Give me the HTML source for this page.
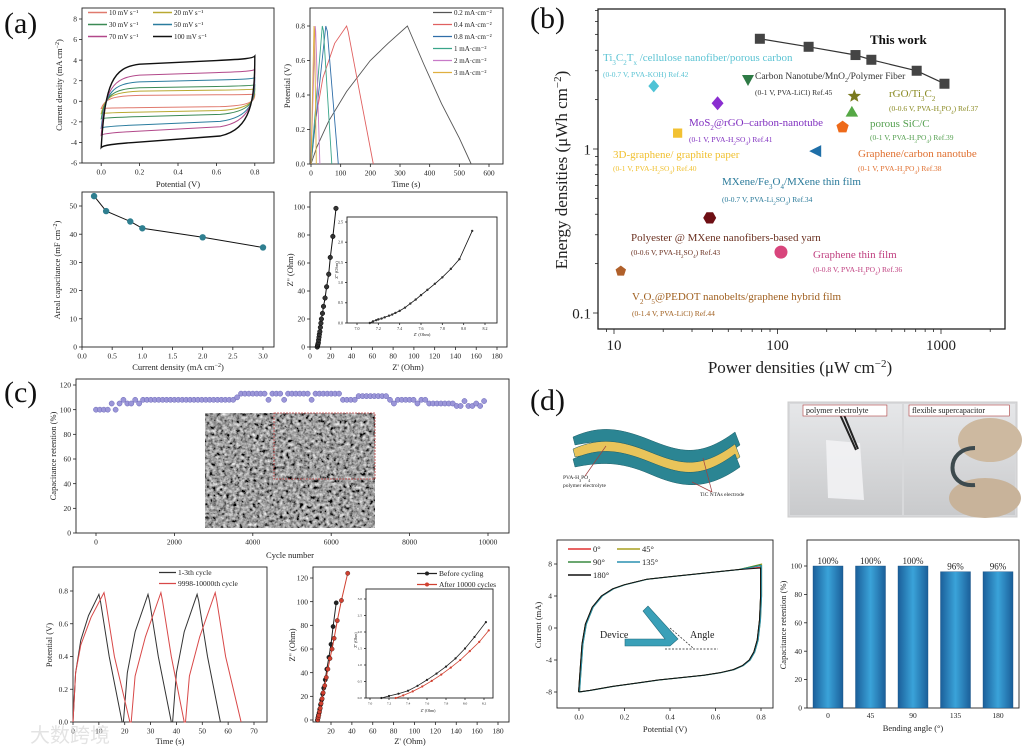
<!DOCTYPE html>
<html><head><meta charset="utf-8"><style>
html,body{margin:0;padding:0;background:#fff;}
svg{display:block;font-family:"Liberation Serif","Noto Serif CJK SC",serif;}
</style></head><body>
<svg id="fig" width="1025" height="748" viewBox="0 0 1025 748" xmlns="http://www.w3.org/2000/svg">
<defs>
<filter id="sem" x="0" y="0" width="100%" height="100%"><feTurbulence type="fractalNoise" baseFrequency="0.3" numOctaves="3" seed="4"/><feColorMatrix type="matrix" values="0.33 0.33 0.33 0 0 0.33 0.33 0.33 0 0 0.33 0.33 0.33 0 0 0 0 0 0 1"/><feComponentTransfer><feFuncR type="linear" slope="2.2" intercept="-0.75"/><feFuncG type="linear" slope="2.2" intercept="-0.75"/><feFuncB type="linear" slope="2.2" intercept="-0.75"/></feComponentTransfer></filter>
<linearGradient id="barg" x1="0" x2="1" y1="0" y2="0"><stop offset="0" stop-color="#1b5f9a"/><stop offset="0.5" stop-color="#3aa3d9"/><stop offset="1" stop-color="#1b5f9a"/></linearGradient>
<linearGradient id="photo" x1="0" x2="0" y1="0" y2="1"><stop offset="0" stop-color="#e6e7e9"/><stop offset="1" stop-color="#c9cacc"/></linearGradient>
</defs>
</svg>
<script>
// ---------- DATA ----------
const cvRates=['10 mV s⁻¹','20 mV s⁻¹','30 mV s⁻¹','50 mV s⁻¹','70 mV s⁻¹','100 mV s⁻¹'];
const cvHigh=[0.7,1.2,1.6,2.3,3.1,4.4];
const cvLow=[-0.7,-1.2,-1.7,-2.6,-3.3,-4.5];
const gcdLabels=['0.2 mA·cm⁻²','0.4 mA·cm⁻²','0.8 mA·cm⁻²','1 mA·cm⁻²','2 mA·cm⁻²','3 mA·cm⁻²'];
const gcdT=[[0,20,60,120,200,260,325,330,380,440,500,540],[0,15,40,80,120,125,160,210],[0,50,55,92],[0,38,42,70],[0,14,16,30],[0,10,12,18]];
const gcdV=[[0,0.1,0.25,0.42,0.6,0.7,0.8,0.78,0.58,0.35,0.15,0],[0,0.25,0.5,0.7,0.8,0.77,0.45,0],[0,0.8,0.77,0],[0,0.8,0.77,0],[0,0.8,0.77,0],[0,0.8,0.77,0]];
const rateX=[0.2,0.4,0.8,1,2,3];
const capY=[53.5,48.2,44.5,42.1,38.9,35.3];
const eisX=[7,7.3,7.6,8,8.3,8.7,9,9.5,10,10.5,11,12,13,14.5,16,18,19.5,22,25];
const eisY=[0,1,2,3,5,7,9,11,14,17,20,24,29,35,43,52,64,79,99];
const eisInX=[7.12,7.15,7.18,7.2,7.23,7.26,7.3,7.33,7.36,7.4,7.45,7.5,7.55,7.6,7.66,7.73,7.8,7.88,7.96,8.08];
const eisInY=[0,0.04,0.07,0.09,0.11,0.14,0.18,0.21,0.25,0.3,0.38,0.48,0.58,0.69,0.82,0.97,1.13,1.34,1.58,2.28];
const workP=[78,155,300,375,710,1050];
const workE=[4.7,4.2,3.74,3.5,3.0,2.5];
const refNames=['Ti3C2Tx','CNT/MnO2','rGO/Ti3C2','SiC/C','MoS2','Graphene/CNT','3D-graphene','MXene/Fe3O4','Polyester','Graphene film','V2O5'];
const refP=[17.5,66,295,285,43,250,24.5,170,38.5,105,11];
const refE=[2.42,2.6,2.1,1.68,1.9,1.36,1.25,0.97,0.38,0.235,0.18];
const cycX=[];for(let i=0;i<100;i++)cycX.push(i*100);
const cycY=[100,100,100,100,105,100,105,108,105,105,108,105,108,108,108,108,108,108,108,108,108,108,108,108,108,108,108,108,108,108,108,108,108,108,108,108,110,113,113,113,113,113,113,113,108,113,113,113,108,113,113,113,113,113,113,108,113,113,113,113,113,113,113,108,108,108,108,111,111,111,111,111,111,111,111,108,105,108,108,108,108,108,105,108,108,105,105,105,105,105,105,105,103,103,107,103,103,105,103,107];
const c2BlackT=[0,1,3,6,10,10.6,14,19,19.5,21,24,29,29.6,33,38,38.5,40,43,48,48.6,52,57];
const c2BlackV=[0,0.3,0.5,0.65,0.78,0.74,0.4,0,0,0.3,0.55,0.78,0.74,0.4,0,0,0.3,0.55,0.78,0.74,0.4,0];
const c2RedT=[0,1,3,7,12,12.6,16,22,22.5,24,28,34,34.6,38,43,43.5,45,49,55,55.6,59,65];
const c2RedV=[0,0.3,0.47,0.64,0.79,0.74,0.4,0,0,0.28,0.52,0.79,0.74,0.4,0,0,0.28,0.52,0.79,0.74,0.4,0];
const c3BX=[7,7.5,8,8.6,9.2,10,11,12,13,14.5,16,18,20,22,25];
const c3BY=[0,2,4,6,9,13,17,22,27,34,43,53,64,79,99];
const c3RX=[7.3,7.8,8.3,9,9.7,10.5,11.5,12.5,14,15.5,17,19,21,23,26,30,36];
const c3RY=[0,2,4,7,10,14,18,23,29,36,43,52,60,69,84,101,124];
const c3InBX=[7.12,7.2,7.3,7.4,7.5,7.6,7.7,7.8,7.9,8.0,8.1,8.22];
const c3InBY=[0,0.06,0.13,0.22,0.37,0.55,0.74,0.95,1.2,1.5,1.85,2.3];
const c3InRX=[7.27,7.35,7.45,7.55,7.65,7.75,7.85,7.95,8.05,8.15,8.25];
const c3InRY=[0,0.08,0.2,0.35,0.52,0.71,0.92,1.15,1.42,1.7,2.05];
const bendLabels=['0°','45°','90°','135°','180°'];
const bendColors=['#e03030','#a8a020','#3a8a40','#2a90b0','#111'];
const bendEnd=[7.6,8.0,7.9,7.8,7.5];
const barCats=['0','45','90','135','180'];
const barVals=[100,100,100,96,96];
const barText=['100%','100%','100%','96%','96%'];

// ---------- HELPERS ----------
const NS='http://www.w3.org/2000/svg';
const svg=document.getElementById('fig');
function el(tag,attrs,parent){const e=document.createElementNS(NS,tag);for(const k in attrs)e.setAttribute(k,attrs[k]);(parent||svg).appendChild(e);return e;}
function txt(s,x,y,size,parent,extra){const t=el('text',Object.assign({x:x,y:y,'font-size':size,fill:'#222'},extra||{}),parent);t.innerHTML=s;return t;}
function lin(d0,d1,r0,r1){return v=>r0+(v-d0)*(r1-r0)/(d1-d0);}
function logs(d0,d1,r0,r1){return v=>r0+(Math.log10(v)-Math.log10(d0))*(r1-r0)/(Math.log10(d1)-Math.log10(d0));}
function pathOf(xs,ys,sx,sy){return xs.map((v,i)=>(i?'L':'M')+sx(v).toFixed(1)+','+sy(ys[i]).toFixed(1)).join('');}
function axes(name,box,sx,sy,xt,yt,o){
  const g=el('g',{});
  
  
  const fs=o.fs||7.5,tl=o.tl||3;
  const f=el('rect',{x:box[0],y:box[1],width:box[2]-box[0],height:box[3]-box[1],fill:'none',stroke:'#222','stroke-width':o.sw||0.9},g);
  
  
  xt.forEach(v=>{const x=sx(v);
    const l=el('line',{x1:x,x2:x,y1:box[3],y2:box[3]+tl,stroke:'#222','stroke-width':0.8},g);
    
    
    const t=txt(o.xf?o.xf(v):v,x,box[3]+tl+fs+1,fs,g,{'text-anchor':'middle'});
    
    
  });
  yt.forEach(v=>{const y=sy(v);
    const l=el('line',{x1:box[0]-tl,x2:box[0],y1:y,y2:y,stroke:'#222','stroke-width':0.8},g);
    
    
    const t=txt(o.yf?o.yf(v):v,box[0]-tl-2,y+fs*0.35,fs,g,{'text-anchor':'end'});
    
    
  });
  if(o.xt){const t=txt(o.xt[0],o.xt[1],o.xt[2],o.tfs||8.5,g,{'text-anchor':'middle'});
    
    }
  if(o.yt){const t=txt(o.yt[0],0,0,o.tfs||8.5,g,{'text-anchor':'middle',transform:'translate('+o.yt[1]+','+o.yt[2]+') rotate(-90)'});
    
    }
  return g;
}
function fix(n,d){return v=>v.toFixed(d);}
function label(s,x,y){const t=txt(s,x,y,30,svg,{fill:'#111'});
  
  }

label('(a)',4,33);label('(b)',530,28);label('(c)',4,402);label('(d)',530,410);

// ---------- (a1) CV ----------
{const box=[82,8,274,163];const sx=lin(-0.1,0.9,82,274),sy=lin(-6,8,163,19);
 const g=axes('cv-rate-chart',box,sx,sy,[0,0.2,0.4,0.6,0.8],[-6,-4,-2,0,2,4,6,8],{xf:fix(0,1),xt:['Potential (V)',178,187],yt:['Current density  (mA cm<tspan baseline-shift="super" font-size="6">−2</tspan>)',62,85]});
 const cols=['#e07a6e','#b9a932','#3b8a55','#2a7c9e','#b2488a','#111'];
 cvHigh.forEach((h,i)=>{const l=cvLow[i];
  const d='M'+sx(0)+','+sy(l)+' C'+sx(0.02)+','+sy(h*0.4)+' '+sx(0.06)+','+sy(h*0.75)+' '+sx(0.2)+','+sy(h*0.82)+' L'+sx(0.6)+','+sy(h*0.9)+' C'+sx(0.75)+','+sy(h*0.93)+' '+sx(0.79)+','+sy(h*0.95)+' '+sx(0.8)+','+sy(h)
   +' C'+sx(0.8)+','+sy(0)+' '+sx(0.78)+','+sy(l*0.6)+' '+sx(0.62)+','+sy(l*0.75)+' L'+sx(0.2)+','+sy(l*0.88)+' C'+sx(0.06)+','+sy(l*0.92)+' '+sx(0.01)+','+sy(l*0.95)+' '+sx(0)+','+sy(l)+'Z';
  const p=el('path',{d:d,fill:'none',stroke:cols[i],'stroke-width':i==5?1.4:1},g);
  
  
  const lx=i%2?153:88,ly=15+Math.floor(i/2)*12;
  const ll=el('line',{x1:lx,x2:lx+19,y1:ly-2.5,y2:ly-2.5,stroke:cols[i],'stroke-width':1.5},g);
  
  
  const lt=txt(cvRates[i],lx+21,ly,7,g);
  
  
 });}

// ---------- (a2) GCD ----------
{const box=[310,8,503,164];const sx=lin(0,600,311,489),sy=lin(0,0.8,164,26);
 const g=axes('gcd-rate-chart',box,sx,sy,[0,100,200,300,400,500,600],[0,0.2,0.4,0.6,0.8],{yf:fix(0,1),xt:['Time (s)',406,187],yt:['Potential (V)',290,86]});
 const cols=['#555','#e06060','#2f6ea8','#3aa58a','#c87ac8','#e0b040'];
 gcdT.forEach((ts,i)=>{const p=el('path',{d:pathOf(ts,gcdV[i],sx,sy),fill:'none',stroke:cols[i],'stroke-width':0.9},g);
  
  
  const ly=15+i*12;
  const ll=el('line',{x1:433,x2:452,y1:ly-2.5,y2:ly-2.5,stroke:cols[i],'stroke-width':1.2},g);
  
  
  const lt=txt(gcdLabels[i],454,ly,7,g);
  
  
 });}

// ---------- (a3) capacitance ----------
{const box=[82,192,274,347];const sx=lin(0,3,82,263),sy=lin(0,50,347,206);
 const g=axes('capacitance-chart',box,sx,sy,[0,0.5,1,1.5,2,2.5,3],[0,10,20,30,40,50],{xf:fix(0,1),xt:['Current density (mA cm<tspan baseline-shift="super" font-size="6">−2</tspan>)',178,370],yt:['Areal capacitance (mF cm<tspan baseline-shift="super" font-size="6">−2</tspan>)',60,270]});
 const p=el('path',{d:pathOf(rateX,capY,sx,sy),fill:'none',stroke:'#111','stroke-width':1},g);
 
 
 rateX.forEach((v,i)=>{const c=el('circle',{cx:sx(v),cy:sy(capY[i]),r:3.2,fill:'#2f7f90'},g);
  
  });}

// ---------- (a4) EIS ----------
{const box=[310,192,507,347];const sx=lin(0,180,310,497),sy=lin(0,100,347,207);
 const g=axes('nyquist-chart',box,sx,sy,[0,20,40,60,80,100,120,140,160,180],[0,20,40,60,80,100],{xt:["Z' (Ohm)",408,370],yt:["Z'' (Ohm)",293,270]});
 const p=el('path',{d:pathOf(eisX,eisY,sx,sy),fill:'none',stroke:'#111','stroke-width':1},g);
 
 
 eisX.forEach((v,i)=>{const c=el('circle',{cx:sx(v),cy:sy(eisY[i]),r:2.3,fill:'#333',stroke:'#000','stroke-width':0.5},g);
  
  });
 const ib=[347,217,497,323];const ix=lin(7,8.2,357,485),iy=lin(0,2.5,323,222);
 const gi=axes('nyquist-inset',ib,ix,iy,[7,7.2,7.4,7.6,7.8,8,8.2],[0,0.5,1,1.5,2,2.5],{fs:4,tl:2,xf:fix(0,1),yf:fix(0,1),tfs:4.5,xt:["Z' (Ohm)",422,336],yt:["Z'' (Ohm)",338,270]});
 const ip=el('path',{d:pathOf(eisInX,eisInY,ix,iy),fill:'none',stroke:'#111','stroke-width':0.8},gi);
 
 
 eisInX.forEach((v,i)=>{const c=el('circle',{cx:ix(v),cy:iy(eisInY[i]),r:1.2,fill:'#333'},gi);
  
  });}

// ---------- (b) Ragone ----------
{const box=[598,9,1005,329];const sx=logs(10,1000,614,941),sy=logs(0.1,1,313,149);
 const g=axes('ragone-chart',box,sx,sy,[10,100,1000],[0.1,1],{fs:15,tl:5,sw:1.3,tfs:17,xt:['Power densities (μW cm<tspan baseline-shift="super" font-size="11">−2</tspan>)',800,373],yt:['Energy densities (μWh cm<tspan baseline-shift="super" font-size="11">−2</tspan>)',567,170]});
 const minX=[9,20,30,40,50,60,70,80,90,200,300,400,500,600,700,800,900,2000];
 minX.forEach(v=>{const m=el('line',{x1:sx(v),x2:sx(v),y1:329,y2:332,stroke:'#222','stroke-width':0.8},g);
  
  });
 const minY=[0.2,0.3,0.4,0.5,0.6,0.7,0.8,0.9,2,3,4,5,6,7];
 minY.forEach(v=>{const m=el('line',{x1:595,x2:598,y1:sy(v),y2:sy(v),stroke:'#222','stroke-width':0.8},g);
  
  });
 const wl=el('path',{d:pathOf(workP,workE,sx,sy),fill:'none',stroke:'#333','stroke-width':1.2},g);
 
 
 workP.forEach((v,i)=>{const r=el('rect',{x:sx(v)-5,y:sy(workE[i])-5,width:10,height:10,fill:'#444'},g);
  
  });
 const shapes=[
  (x,y)=>'M'+x+','+(y-7)+'L'+(x+6)+','+y+'L'+x+','+(y+7)+'L'+(x-6)+','+y+'Z',
  (x,y)=>'M'+(x-6)+','+(y-6)+'L'+(x+6)+','+(y-6)+'L'+x+','+(y+5)+'Z',
  (x,y)=>{let s='';for(let k=0;k<10;k++){const a=-Math.PI/2+k*Math.PI/5,r=k%2?3:7;s+=(k?'L':'M')+(x+r*Math.cos(a)).toFixed(1)+','+(y+r*Math.sin(a)).toFixed(1);}return s+'Z';},
  (x,y)=>'M'+x+','+(y-7)+'L'+(x+7)+','+(y+5)+'L'+(x-7)+','+(y+5)+'Z',
  (x,y)=>'M'+x+','+(y-7)+'L'+(x+6)+','+y+'L'+x+','+(y+7)+'L'+(x-6)+','+y+'Z',
  (x,y)=>{let s='';for(let k=0;k<5;k++){const a=-Math.PI/2+k*2*Math.PI/5;s+=(k?'L':'M')+(x+6.5*Math.cos(a)).toFixed(1)+','+(y+6.5*Math.sin(a)).toFixed(1);}return s+'Z';},
  (x,y)=>'M'+(x-5)+','+(y-5)+'h10v10h-10Z',
  (x,y)=>'M'+(x+6)+','+(y-6)+'L'+(x-6)+','+y+'L'+(x+6)+','+(y+6)+'Z',
  (x,y)=>{let s='';for(let k=0;k<6;k++){const a=k*Math.PI/3;s+=(k?'L':'M')+(x+6.5*Math.cos(a)).toFixed(1)+','+(y+6.5*Math.sin(a)).toFixed(1);}return s+'Z';},
  (x,y)=>'M'+(x-6.5)+','+y+'a6.5,6.5 0 1,0 13,0a6.5,6.5 0 1,0 -13,0Z',
  (x,y)=>{let s='';for(let k=0;k<5;k++){const a=-Math.PI/2+k*2*Math.PI/5;s+=(k?'L':'M')+(x+6*Math.cos(a)).toFixed(1)+','+(y+6*Math.sin(a)).toFixed(1);}return s+'Z';}];
 const mcols=['#4fc3d6','#2e7a45','#7a7a1e','#55a845','#8a2ed0','#ee6a1a','#f2c132','#1f6fa8','#6e0f14','#d8457c','#b0602a'];
 refP.forEach((v,i)=>{const p=el('path',{d:shapes[i](sx(v),sy(refE[i])),fill:mcols[i],stroke:i==0||i==3||i==6||i==10?'#fff':'none','stroke-width':0.8},g);
  
  });
 const ann=[
  ['<tspan font-weight="bold" fill="#111">This work</tspan>',870,44,13,'#111'],
  ['Ti<tspan baseline-shift="sub" font-size="7">3</tspan>C<tspan baseline-shift="sub" font-size="7">2</tspan>T<tspan baseline-shift="sub" font-size="7">x</tspan> /cellulose nanofiber/porous carbon',603,61,11,'#5bc3d3'],
  ['(0-0.7 V, PVA-KOH) Ref.42',603,77,7.5,'#5bc3d3'],
  ['Carbon Nanotube/MnO<tspan baseline-shift="sub" font-size="6">2</tspan>/Polymer Fiber',755,79,9.5,'#333'],
  ['(0-1 V, PVA-LiCl) Ref.45',755,95,7.5,'#333'],
  ['rGO/Ti<tspan baseline-shift="sub" font-size="7">3</tspan>C<tspan baseline-shift="sub" font-size="7">2</tspan>',889,97,11,'#8a8a22'],
  ['(0-0.6 V, PVA-H<tspan baseline-shift="sub" font-size="5">3</tspan>PO<tspan baseline-shift="sub" font-size="5">4</tspan>) Ref.37',889,111,7.5,'#8a8a22'],
  ['MoS<tspan baseline-shift="sub" font-size="7">2</tspan>@rGO–carbon-nanotube',689,126,11,'#8030c0'],
  ['(0-1 V, PVA-H<tspan baseline-shift="sub" font-size="5">2</tspan>SO<tspan baseline-shift="sub" font-size="5">4</tspan>) Ref.41',689,142,7.5,'#8030c0'],
  ['porous SiC/C',870,127,11,'#55a050'],
  ['(0-1 V, PVA-H<tspan baseline-shift="sub" font-size="5">3</tspan>PO<tspan baseline-shift="sub" font-size="5">4</tspan>) Ref.39',870,140,7.5,'#55a050'],
  ['3D-graphene/ graphite paper',613,158,11,'#f0c030'],
  ['(0-1 V, PVA-H<tspan baseline-shift="sub" font-size="5">2</tspan>SO<tspan baseline-shift="sub" font-size="5">4</tspan>) Ref.40',613,171,7.5,'#f0c030'],
  ['Graphene/carbon nanotube',858,157,11,'#e07030'],
  ['(0-1 V, PVA-H<tspan baseline-shift="sub" font-size="5">3</tspan>PO<tspan baseline-shift="sub" font-size="5">4</tspan>) Ref.38',858,171,7.5,'#e07030'],
  ['MXene/Fe<tspan baseline-shift="sub" font-size="7">3</tspan>O<tspan baseline-shift="sub" font-size="7">4</tspan>/MXene thin film',722,185,11,'#2a7a9a'],
  ['(0-0.7 V, PVA-Li<tspan baseline-shift="sub" font-size="5">2</tspan>SO<tspan baseline-shift="sub" font-size="5">4</tspan>) Ref.34',722,202,7.5,'#2a7a9a'],
  ['Polyester @ MXene nanofibers-based yarn',631,241,11,'#6a3020'],
  ['(0-0.6 V, PVA-H<tspan baseline-shift="sub" font-size="5">2</tspan>SO<tspan baseline-shift="sub" font-size="5">4</tspan>) Ref.43',631,255,7.5,'#6a3020'],
  ['Graphene thin film',813,258,11,'#c04080'],
  ['(0-0.8 V, PVA-H<tspan baseline-shift="sub" font-size="5">3</tspan>PO<tspan baseline-shift="sub" font-size="5">4</tspan>) Ref.36',813,272,7.5,'#c04080'],
  ['V<tspan baseline-shift="sub" font-size="7">2</tspan>O<tspan baseline-shift="sub" font-size="7">5</tspan>@PEDOT nanobelts/graphene hybrid film',632,300,11,'#a06020'],
  ['(0-1.4 V, PVA-LiCl) Ref.44',632,316,7.5,'#a06020']];
 ann.forEach(a=>{const t=txt(a[0],a[1],a[2],a[3],g,{fill:a[4]});
  
  });}

// ---------- (c1) cycling ----------
{const box=[76,379,509,533];const sx=lin(0,10000,96,488),sy=lin(0,120,533,385);
 const g=axes('cycling-chart',box,sx,sy,[0,2000,4000,6000,8000,10000],[0,20,40,60,80,100,120],{xt:['Cycle number',290,558],yt:['Capacitance retention (%)',56,456]});
 const sem=el('rect',{x:205,y:413,width:170,height:115,fill:'#777',filter:'url(#sem)'},g);
 
 
 const zb=el('rect',{x:274,y:413,width:101,height:66,fill:'none',stroke:'#c04040','stroke-width':0.8,'stroke-dasharray':'2,1'},g);
 
 
 cycX.forEach((v,i)=>{const c=el('circle',{cx:sx(v),cy:sy(cycY[i]),r:2.6,fill:'#9b96d8',stroke:'#6a66b8','stroke-width':0.5},g);
  
  });}

// ---------- (c2) GCD cycles ----------
{const box=[73,567,267,722];const sx=lin(0,70,73,254),sy=lin(0,0.8,722,591);
 const g=axes('gcd-cycle-chart',box,sx,sy,[0,10,20,30,40,50,60,70],[0,0.2,0.4,0.6,0.8],{yf:fix(0,1),xt:['Time (s)',170,744],yt:['Potential (V)',52,645]});
 const pb=el('path',{d:pathOf(c2BlackT,c2BlackV,sx,sy),fill:'none',stroke:'#333','stroke-width':1},g);
 
 
 const pr=el('path',{d:pathOf(c2RedT,c2RedV,sx,sy),fill:'none',stroke:'#d84848','stroke-width':1},g);
 
 
 [['1-3th cycle','#333',575],['9998-10000th cycle','#d84848',586]].forEach(a=>{
  const l=el('line',{x1:159,x2:176,y1:a[2]-2.5,y2:a[2]-2.5,stroke:a[1],'stroke-width':1.2},g);
  
  
  const t=txt(a[0],178,a[2],7.5,g);
  
  });}

// ---------- (c3) EIS before/after ----------
{const box=[313,567,509,722];const sx=lin(20,180,331,498),sy=lin(0,120,720,578);
 const g=axes('nyquist-cycle-chart',box,sx,sy,[20,40,60,80,100,120,140,160,180],[0,20,40,60,80,100,120],{xt:["Z' (Ohm)",410,744],yt:["Z'' (Ohm)",295,645]});
 [[c3BX,c3BY,'#222'],[c3RX,c3RY,'#d04030']].forEach(s=>{
  const p=el('path',{d:pathOf(s[0],s[1],sx,sy),fill:'none',stroke:s[2],'stroke-width':1},g);
  
  
  s[0].forEach((v,i)=>{const c=el('circle',{cx:sx(v),cy:sy(s[1][i]),r:2.2,fill:s[2],stroke:'#000','stroke-width':0.3},g);
   
   });});
 [['Before cycling','#222',576],['After 10000 cycles','#d04030',587]].forEach(a=>{
  const l=el('line',{x1:417,x2:437,y1:a[2]-2.5,y2:a[2]-2.5,stroke:a[1],'stroke-width':1.2},g);
  
  
  const c=el('circle',{cx:427,cy:a[2]-2.5,r:2,fill:a[1]},g);
  
  
  const t=txt(a[0],439,a[2],7.5,g);
  
  });
 const ib=[366,589,493,698];const ix=lin(7,8.2,370,484),iy=lin(0,3,698,599);
 const gi=axes('nyquist-cycle-inset',ib,ix,iy,[7,7.2,7.4,7.6,7.8,8,8.2],[0,0.5,1,1.5,2,2.5,3],{fs:3.5,tl:2,xf:fix(0,1),yf:fix(0,1),tfs:4,xt:["Z' (Ohm)",428,712],yt:["Z'' (Ohm)",357,640]});
 [[c3InBX,c3InBY,'#222'],[c3InRX,c3InRY,'#d04030']].forEach(s=>{
  const p=el('path',{d:pathOf(s[0],s[1],ix,iy),fill:'none',stroke:s[2],'stroke-width':0.8},gi);
  
  
  s[0].forEach((v,i)=>{const c=el('circle',{cx:ix(v),cy:iy(s[1][i]),r:1.1,fill:s[2]},gi);
   
   });});}

// ---------- (d) device diagram ----------
{const g=el('g',{});
 
 
 const layers=[[0,'#2b8593'],[12,'#e9c45a'],[22,'#2b8593']];
 layers.forEach(L=>{const o=L[0];
  const p=el('path',{d:'M573,'+(437+o)+' C600,'+(425+o)+' 620,'+(428+o)+' 650,'+(440+o)+' S700,'+(458+o)+' 735,'+(432+o)+' L740,'+(445+o)+' C705,'+(470+o)+' 680,'+(465+o)+' 650,'+(452+o)+' S600,'+(440+o)+' 575,'+(445+o)+'Z',fill:L[1],stroke:'#1f5f68','stroke-width':0.5},g);
  
  });
 const t1=txt('PVA-H<tspan baseline-shift="sub" font-size="4">3</tspan>PO<tspan baseline-shift="sub" font-size="4">4</tspan>',563,479,5.5,g);
 
 
 const t2=txt('polymer electrolyte',563,487,5.5,g);
 
 
 const t3=txt('TiC NTAs electrode',700,496,5.5,g);
 
 
 const ar=el('path',{d:'M585,476 L606,446 M712,492 L703,458 M712,492 L692,482',stroke:'#a04040','stroke-width':0.7,fill:'none'},g);
 
 }
{const g=el('g',{});
 
 
 const bg=el('rect',{x:788,y:402,width:229,height:115,fill:'#d8d9db',stroke:'#ccc'},g);
 
 
 const p1=el('rect',{x:790,y:404,width:112,height:111,fill:'url(#photo)'},g);
 
 
 const p2=el('rect',{x:904,y:404,width:111,height:111,fill:'url(#photo)'},g);
 
 
 const film=el('path',{d:'M826,440 L860,443 L864,500 L828,498Z',fill:'#f2f2f4',opacity:0.9},g);
 
 
 const tw=el('path',{d:'M838,410 L856,450 M842,410 L858,449',stroke:'#222','stroke-width':2},g);
 
 
 const f1=el('ellipse',{cx:990,cy:440,rx:32,ry:22,fill:'#cdb9a0'},g);
 
 
 const f2=el('ellipse',{cx:985,cy:498,rx:36,ry:20,fill:'#c8b39a'},g);
 
 
 const bd=el('path',{d:'M975,448 C945,448 945,488 975,485',fill:'none',stroke:'#3d4a4e','stroke-width':4},g);
 
 
 [['polymer electrolyte',806,413],['flexible supercapacitor',912,413]].forEach(a=>{
  const r=el('rect',{x:a[1]-3,y:a[2]-8,width:a[0].length*4.1+6,height:11,fill:'#fff',stroke:'#b04040','stroke-width':0.6},g);
  
  
  const t=txt(a[0],a[1],a[2],8,g);
  
  });}

// ---------- (d1) bending CV ----------
const cvUpV=[0,0.005,0.015,0.03,0.06,0.1,0.15,0.2,0.3,0.4,0.5,0.6,0.7];
const cvUpI=[-8,-6,-2,0.5,2.6,4,4.9,5.4,6.1,6.4,6.7,7,7.3];
const cvLoV=[0.8,0.795,0.785,0.77,0.75,0.72,0.68,0.62,0.55,0.45,0.35,0.25,0.15,0.05,0];
const cvLoI=[4,1,-1.5,-3,-4,-4.7,-5.2,-5.6,-5.9,-6.2,-6.5,-6.9,-7.3,-7.8,-8];
{const box=[557,540,773,708];const sx=lin(0,0.8,579,761),sy=lin(-8,8,692,564);
 const g=axes('bending-cv-chart',box,sx,sy,[0,0.2,0.4,0.6,0.8],[-8,-4,0,4,8],{xf:fix(0,1),xt:['Potential (V)',665,732],yt:['Current (mA)',541,625]});
 bendEnd.forEach((e,i)=>{const d=pathOf(cvUpV.concat([0.8]),cvUpI.concat([e]),sx,sy)+pathOf(cvLoV,cvLoI,sx,sy).replace('M','L');
  const p=el('path',{d:d,fill:'none',stroke:bendColors[i],'stroke-width':1,transform:'translate('+(i%2?0.6:-0.4)+',0)'},g);
  
  
  const lx=i%2?617:568,ly=552+Math.floor(i/2)*13;
  const l=el('line',{x1:lx,x2:lx+23,y1:ly-3,y2:ly-3,stroke:bendColors[i],'stroke-width':1.4},g);
  
  
  const t=txt(bendLabels[i],lx+25,ly,8.5,g);
  
  });
 const dev=el('path',{d:'M625,646 L670,646 L678,639 L648,606 L643,611 L665,639 L625,639Z',fill:'#3aa0b8',stroke:'#246b7c','stroke-width':0.6},g);
 
 
 const dl=el('path',{d:'M665,649 L718,649 M670,628 L693,648',stroke:'#222','stroke-width':0.7,'stroke-dasharray':'2,1.5',fill:'none'},g);
 
 
 const t1=txt('Device',600,638,10,g);
 
 
 const t2=txt('Angle',690,638,10,g);
 
 }

// ---------- (d2) bending retention bars ----------
{const box=[807,540,1019,708];const sy=lin(0,100,708,566);
 const sx=i=>828+i*42.5;
 const g=axes('bending-bar-chart',box,sx,sy,[],[0,20,40,60,80,100],{xt:['Bending angle (°)',913,731],yt:['Capacitance retention (%)',786,625]});
 barCats.forEach((c,i)=>{const x=sx(i);
  const r=el('rect',{x:x-15,y:sy(barVals[i]),width:30,height:sy(0)-sy(barVals[i]),fill:'url(#barg)',stroke:'#184f80','stroke-width':0.4},g);
  
  
  const t=txt(barText[i],x,sy(barVals[i])-2,9,g,{'text-anchor':'middle'});
  
  
  const ct=txt(c,x,718,7.5,g,{'text-anchor':'middle'});
  
  });}

// watermark
{const w=txt('大数跨境',30,742,20,svg,{fill:'#ddd',opacity:0.8,'font-family':'"Noto Sans CJK SC",sans-serif'});
 
 }
</script>
</body></html>
